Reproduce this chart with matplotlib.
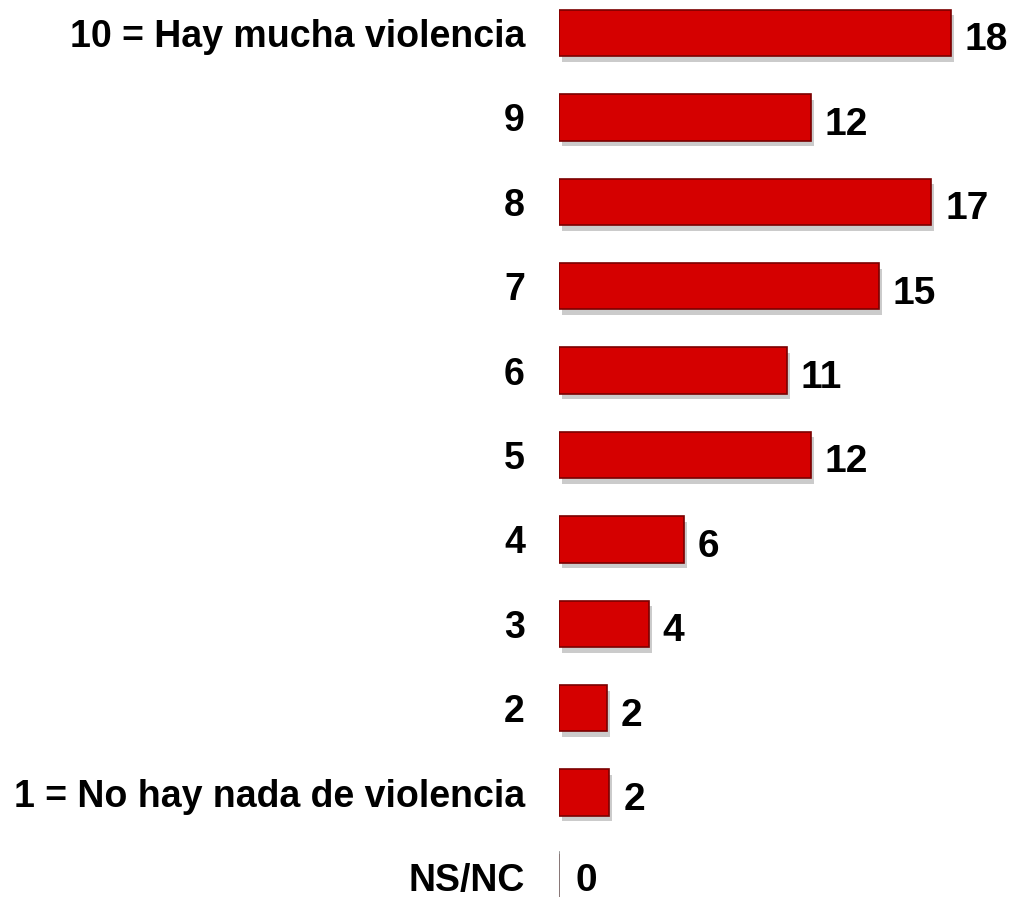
import matplotlib
matplotlib.use("Agg")
import matplotlib.pyplot as plt
import matplotlib.patheffects as pe

categories = ["10 = Hay mucha violencia", "9", "8", "7", "6", "5", "4", "3", "2",
              "1 = No hay nada de violencia", "NS/NC"]
values = [17.9, 11.5, 17.0, 14.6, 10.4, 11.5, 5.7, 4.1, 2.2, 2.3, 0.0]
labels = ["18", "12", "17", "15", "11", "12", "6", "4", "2", "2", "0"]

plt.rcParams['font.family'] = ['Liberation Sans', 'DejaVu Sans']

fig = plt.figure(figsize=(10.18, 8.97), dpi=100)
ax = fig.add_axes([559/1018, 0, 459/1018, 1])

pos = list(range(len(categories)))
bars = ax.barh(pos, values, height=0.55, color="#D50000", edgecolor="#7a0000",
               linewidth=1.2, zorder=3)
for b in bars:
    b.set_path_effects([pe.SimplePatchShadow(offset=(2, -4), shadow_rgbFace="#999999", alpha=0.5),
                        pe.Normal()])
# zero bar shown as thin grey line
for p, v in zip(pos, values):
    if v == 0:
        ax.plot([0, 0], [p - 0.3, p + 0.3], color="#888888", lw=1.2, zorder=4)

for p, v, t in zip(pos, values, labels):
    dx, dy = (10, -2.5) if v > 0 else (12, 0)
    ax.annotate(t, xy=(v, p), xytext=(dx, dy), textcoords="offset points",
                va="center_baseline", ha="left",
                fontsize=28, fontweight="bold", color="black", annotation_clip=False)

ax.set_xlim(0, 459/21.9)
ax.set_ylim(10 + 20/84.4, -33/84.4)
ax.set_yticks(pos)
ax.set_yticklabels(categories, fontsize=27, fontweight="bold", va="center_baseline")
ax.tick_params(axis="y", length=0, pad=24.5)
ax.set_xticks([])
for s in ax.spines.values():
    s.set_visible(False)

fig.savefig("out.png", dpi=100)
